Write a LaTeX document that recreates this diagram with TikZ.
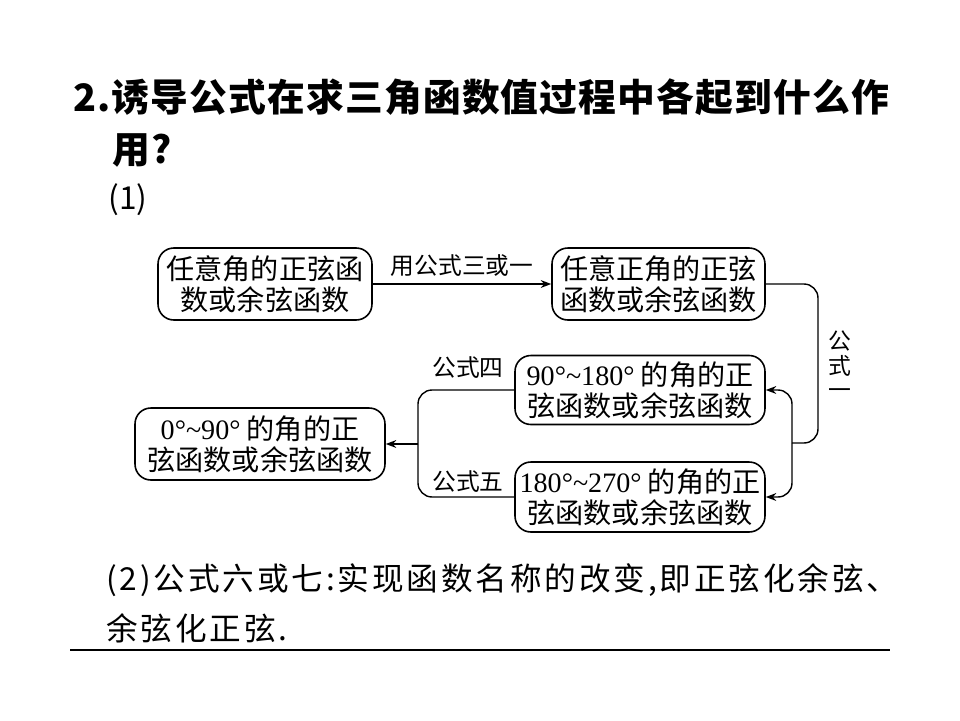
\documentclass[tikz,border=0pt]{standalone}
\usepackage{fontspec}
\setmainfont{Liberation Serif}
\newfontfamily\cjk{Noto Sans CJK SC}
\newfontfamily\cjktitle[LetterSpace=3]{Noto Sans CJK SC}
\newfontfamily\cjkwide[LetterSpace=9]{Noto Sans CJK SC}
\usetikzlibrary{arrows.meta}
\newcommand\rng[1]{{\rmfamily #1}}
\tikzset{
  card/.style={draw, line width=0.9pt, rounded corners=9pt, align=center, inner sep=0pt,
    font=\cjk\fontsize{16}{17.5}\selectfont},
  arr/.style={-{Stealth[length=6pt,width=4.5pt]}, line width=0.8pt},
  link/.style={line width=0.8pt, rounded corners=8pt},
  tag/.style={font=\cjk\fontsize{13.5}{15}\selectfont, inner sep=1pt},
  line/.style={anchor=west, inner sep=0pt},
}
\begin{document}
\begin{tikzpicture}[x=0.02cm,y=-0.02cm]
        \useasboundingbox (0,0) rectangle (960,720);
        % question
        \node[line, font=\cjktitle\bfseries\fontsize{21.5}{24}\selectfont] (q1) at (73,97) {2.诱导公式在求三角函数值过程中各起到什么作};
        \node[line, font=\cjktitle\bfseries\fontsize{21.5}{24}\selectfont] (q2) at (112,150) {用?};
        \node[line, font=\cjk\fontsize{18}{20}\selectfont] (p1) at (108,200) {(1)};
        % boxes
        \node[card, minimum width=4.28cm, minimum height=1.44cm] (A) at (265,284) {任意角的正弦函\\数或余弦函数};
        \node[card, minimum width=4.26cm, minimum height=1.44cm] (B) at (658.5,284) {任意正角的正弦\\函数或余弦函数};
        \node[card, minimum width=5cm, minimum height=1.38cm] (C) at (640,390) {\rng{90°\textasciitilde180°} 的角的正\\弦函数或余弦函数};
        \node[card, minimum width=5cm, minimum height=1.4cm] (D) at (640,497) {\rng{180°\textasciitilde270°} 的角的正\\弦函数或余弦函数};
        \node[card, minimum width=5cm, minimum height=1.44cm] (E) at (260,444) {\rng{0°\textasciitilde90°} 的角的正\\弦函数或余弦函数};
        % connectors
        \draw[arr] (A) -- node[tag, above=3pt] (t1) {用公式三或一} (B);
        \coordinate (rt) at (818,443);
        \coordinate (r) at (792,443);
        \draw[link] (B.east) -| (rt) -- (r);
        \draw[arr, rounded corners=8pt] (r) |- (C.east);
        \draw[arr, rounded corners=8pt] (r) |- (D.east);
        \node[tag, align=center, font=\cjk\fontsize{13}{14}\selectfont] (t2) at (840,365) {公\\式\\一};
        \coordinate (l) at (418,444);
        \draw[link] (C.west) -| (l);
        \draw[link] (D.west) -| (l);
        \draw[arr] (l) -- (E.east);
        \node[tag] (t4) at (468,368) {公式四};
        \node[tag] (t5) at (468,482) {公式五};
        % answer (2)
        \node[line, font=\cjkwide\fontsize{18}{20}\selectfont] (p2) at (106,580) {(2)公式六或七:实现函数名称的改变,即正弦化余弦、};
        \node[line, font=\cjkwide\fontsize{18}{20}\selectfont] (p3) at (106,628) {余弦化正弦.};
        \draw[line width=1pt] (70,650) -- (890,650);
    \end{tikzpicture}
\end{document}
